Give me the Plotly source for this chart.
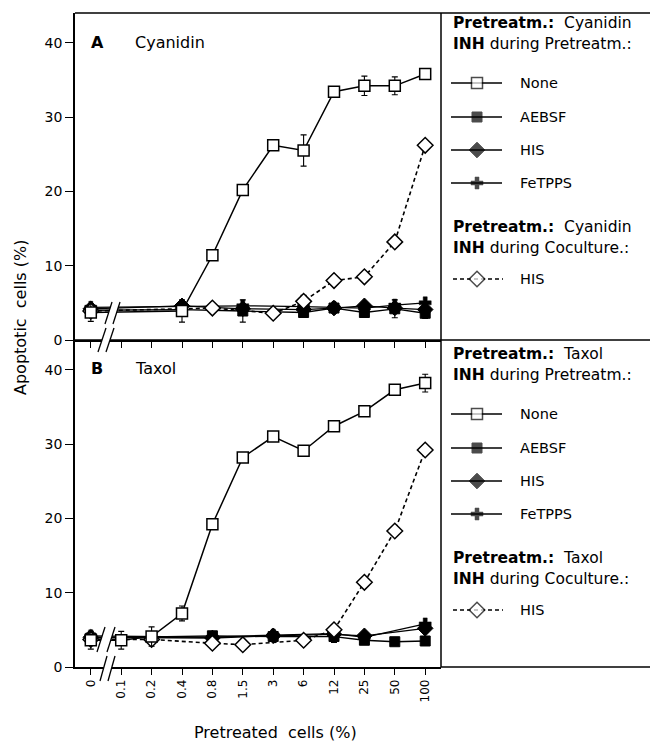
import plotly.graph_objects as go

# ---------------- data ----------------
x_labels = ["0", "0.1", "0.2", "0.4", "0.8", "1.5", "3", "6", "12", "25", "50", "100"]
y_ticks = [0, 10, 20, 30, 40]

# Panel A: Cyanidin pretreatment
cy_none_x = ["0", "0.4", "0.8", "1.5", "3", "6", "12", "25", "50", "100"]
cy_none_y = [3.7, 3.9, 11.4, 20.2, 26.2, 25.5, 33.4, 34.2, 34.2, 35.8]
cy_none_e = [1.2, 1.5, 0, 0, 0, 2.1, 0, 1.3, 1.2, 0]

cy_inh_x = ["0", "0.4", "1.5", "6", "12", "25", "50", "100"]
cy_aebsf_y = [4.0, 4.1, 3.9, 3.7, 4.3, 3.7, 4.2, 3.6]
cy_aebsf_e = [0.5, 0.5, 1.5, 0.4, 0.3, 0.4, 1.2, 0.7]
cy_his_y = [4.2, 4.6, 4.2, 4.1, 4.3, 4.6, 4.3, 4.1]
cy_fe_y = [4.4, 4.5, 4.6, 4.5, 4.4, 4.3, 4.7, 5.0]

cy_co_x = ["0", "0.8", "3", "6", "12", "25", "50", "100"]
cy_co_y = [3.9, 4.3, 3.6, 5.2, 8.0, 8.5, 13.2, 26.2]
cy_co_e = [0, 0, 0, 0.8, 0, 0, 0, 0]

# Panel B: Taxol pretreatment
tx_none_x = x_labels
tx_none_y = [3.6, 3.6, 4.1, 7.2, 19.2, 28.2, 31.0, 29.1, 32.4, 34.4, 37.3, 38.2]
tx_none_e = [1.2, 1.2, 1.3, 1.0, 0, 0, 0, 0, 0, 0, 0, 1.2]

tx_aebsf_x = ["0", "0.8", "3", "12", "25", "50", "100"]
tx_aebsf_y = [3.9, 4.2, 4.1, 4.1, 3.6, 3.4, 3.5]
tx_aebsf_e = [0.6, 0, 0, 0.8, 0, 0, 0]
tx_inh_x = ["0", "0.8", "3", "12", "25", "100"]
tx_his_y = [4.0, 3.9, 4.2, 4.4, 4.2, 5.2]
tx_fe_y = [4.2, 4.0, 4.3, 4.5, 4.0, 5.8]

tx_co_x = ["0", "0.2", "0.8", "1.5", "6", "12", "25", "50", "100"]
tx_co_y = [3.7, 3.7, 3.2, 3.0, 3.6, 5.0, 11.4, 18.3, 29.2]

legend_names = ["None", "AEBSF", "HIS", "FeTPPS"]
coculture_name = "HIS"

# ---------------- layout geometry ----------------
# reference-pixel frame of the plotting area
REF_L, REF_R, REF_T, REF_B = 75, 658, 13, 667
SPLIT_X = 441
PAGE_PAD = 8            # the page body margin of the browser
W, H = 658 - PAGE_PAD, 744 - PAGE_PAD
ML, MT = REF_L - PAGE_PAD, REF_T - PAGE_PAD
MR = 0
MB = H - (REF_B - PAGE_PAD)
PW, PH = REF_R - REF_L, REF_B - REF_T


def px(x):
    return (x - REF_L) / PW


def py(y):
    return (REF_B - y) / PH


FONT = "DejaVu Sans"
INK = "#000000"

fig = go.Figure()

styles = {
    "none": dict(symbol="square", size=11, color="white", line=dict(color=INK, width=1.5)),
    "aebsf": dict(symbol="square", size=10, color=INK, line=dict(color=INK, width=1)),
    "his": dict(symbol="diamond", size=12, color=INK, line=dict(color=INK, width=1)),
    "fe": dict(symbol="cross", size=10, color=INK, line=dict(color=INK, width=0.5)),
    "co": dict(symbol="diamond", size=12, color="white", line=dict(color=INK, width=1.5)),
}


def err(arr):
    return dict(type="data", array=arr, visible=True, color=INK, thickness=1.1, width=3)


def add_panel(xa, ya, aebsf, his, fe, co, none):
    for (xs, ys, es, key) in (aebsf, his, fe):
        fig.add_trace(go.Scatter(
            x=xs, y=ys, mode="lines+markers", xaxis=xa, yaxis=ya,
            line=dict(color=INK, width=1.3), marker=styles[key],
            error_y=err(es) if es is not None else None, showlegend=False))
    xs, ys, es = co
    fig.add_trace(go.Scatter(
        x=xs, y=ys, mode="lines+markers", xaxis=xa, yaxis=ya,
        line=dict(color=INK, width=1.6, dash="4px,3px"), marker=styles["co"],
        error_y=err(es) if es is not None else None, showlegend=False))
    xs, ys, es = none
    fig.add_trace(go.Scatter(
        x=xs, y=ys, mode="lines+markers", xaxis=xa, yaxis=ya,
        line=dict(color=INK, width=1.5), marker=styles["none"],
        error_y=err(es), showlegend=False))


add_panel("x", "y",
          (cy_inh_x, cy_aebsf_y, cy_aebsf_e, "aebsf"),
          (cy_inh_x, cy_his_y, None, "his"),
          (cy_inh_x, cy_fe_y, None, "fe"),
          (cy_co_x, cy_co_y, cy_co_e),
          (cy_none_x, cy_none_y, cy_none_e))
add_panel("x2", "y2",
          (tx_aebsf_x, tx_aebsf_y, tx_aebsf_e, "aebsf"),
          (tx_inh_x, tx_his_y, None, "his"),
          (tx_inh_x, tx_fe_y, None, "fe"),
          (tx_co_x, tx_co_y, None),
          (tx_none_x, tx_none_y, tx_none_e))

# ---------------- legend (drawn in the right-hand boxes) ----------------
annotations = []


def txt(x, y, s, size, anchor="left", **kw):
    annotations.append(dict(x=px(x), y=py(y), xref="paper", yref="paper", text=s,
                            showarrow=False, xanchor=anchor, yanchor="middle",
                            font=dict(family=FONT, size=size, color=INK), **kw))


legend_blocks = [
    ("Cyanidin", 0),
    ("Taxol", 331),
]
keys = ["none", "aebsf", "his", "fe"]
entry_y = [83, 117, 150, 183]
for agent, off in legend_blocks:
    txt(451, 23 + off, "<b>Pretreatm.:</b>&nbsp; " + agent, 15.5)
    txt(451, 44 + off, "<b>INH</b> during Pretreatm.:", 15.5)
    for name, key, ey in zip(legend_names, keys, entry_y):
        fig.add_trace(go.Scatter(
            x=[451, 477, 502], y=[ey + off] * 3, mode="lines+markers",
            xaxis="x3", yaxis="y3", line=dict(color=INK, width=1.4),
            marker=dict(symbol=styles[key]["symbol"], size=[0, styles[key]["size"], 0],
                        color=styles[key]["color"], line=styles[key]["line"]),
            showlegend=False, hoverinfo="skip"))
        txt(518, ey + off, name, 14.5)
    txt(451, 227 + off, "<b>Pretreatm.:</b>&nbsp; " + agent, 15.5)
    txt(451, 248 + off, "<b>INH</b> during Coculture.:", 15.5)
    fig.add_trace(go.Scatter(
        x=[453, 477, 503], y=[279 + off] * 3, mode="lines+markers",
        xaxis="x3", yaxis="y3", line=dict(color=INK, width=1.6, dash="4px,3px"),
        marker=dict(symbol="diamond", size=[0, 12, 0], color="white",
                    line=dict(color=INK, width=1.5)),
        showlegend=False, hoverinfo="skip"))
    txt(518, 279 + off, coculture_name, 14.5)

# panel labels
txt(89, 42, "<b>A</b>", 16)
txt(133, 42, "Cyanidin", 16)
txt(89, 368, "<b>B</b>", 16)
txt(133, 368, "Taxol", 16)

# axis titles
txt(20, 318, "Apoptotic&nbsp; cells (%)", 16, anchor="center", textangle=-90)
txt(275, 732, "Pretreated&nbsp; cells (%)", 16, anchor="center")

# ---------------- frame lines and axis breaks ----------------
shapes = []


def line(x0, y0, x1, y1, w=1.5, color=INK):
    shapes.append(dict(type="line", xref="paper", yref="paper",
                       x0=px(x0), y0=py(y0), x1=px(x1), y1=py(y1),
                       line=dict(color=color, width=w)))


line(REF_L, REF_T, REF_R, REF_T)
line(SPLIT_X, REF_T, SPLIT_X, REF_B)
line(REF_L, 340, REF_R, 340)
line(SPLIT_X, REF_B, REF_R, REF_B)


def brk(xb1, xt1, xb2, xt2, yb, yt):
    path = "M {} {} L {} {} L {} {} L {} {} Z".format(
        px(xb1), py(yb), px(xt1), py(yt), px(xt2), py(yt), px(xb2), py(yb))
    shapes.append(dict(type="path", xref="paper", yref="paper", path=path,
                       fillcolor="white", line=dict(width=0)))
    line(xb1, yb, xt1, yt, 1.3)
    line(xb2, yb, xt2, yt, 1.3)


brk(105, 112, 113, 120, 324, 302)   # panel A, at data level
brk(98, 106, 106, 114, 352, 328)    # panel A, across axis
brk(97, 105, 107, 115, 652, 627)    # panel B, at data level
brk(100, 107, 108, 115, 681, 656)   # panel B, across axis

xdom = [0, px(SPLIT_X)]
xcommon = dict(type="category", categoryarray=x_labels, range=[-0.52, 11.52],
               domain=xdom, showline=True, linecolor=INK, linewidth=1.5,
               ticks="outside", ticklen=6, tickwidth=1.2, tickcolor=INK,
               showgrid=False, zeroline=False,
               tickfont=dict(family=FONT, size=12, color=INK))
ycommon = dict(range=[0, 44], tickvals=y_ticks, showline=True, linecolor=INK,
               linewidth=1.5, ticks="outside", ticklen=8, tickwidth=1.2,
               tickcolor=INK, showgrid=False, zeroline=False,
               tickfont=dict(family=FONT, size=14, color=INK))

fig.update_layout(
    width=W, height=H, margin=dict(l=ML, r=MR, t=MT, b=MB),
    paper_bgcolor="white", plot_bgcolor="rgba(0,0,0,0)",
    font=dict(family=FONT, color=INK),
    xaxis=dict(xcommon, anchor="y", showticklabels=False),
    yaxis=dict(ycommon, domain=[0.5, 1], anchor="x"),
    xaxis2=dict(xcommon, anchor="y2", tickangle=-90),
    yaxis2=dict(ycommon, domain=[0, 0.5], anchor="x2"),
    xaxis3=dict(domain=[0, 1], range=[REF_L, REF_R], visible=False, anchor="y3"),
    yaxis3=dict(domain=[0, 1], range=[REF_B, REF_T], visible=False, anchor="x3"),
    shapes=shapes, annotations=annotations, showlegend=False,
)

fig.write_html("out.html")
